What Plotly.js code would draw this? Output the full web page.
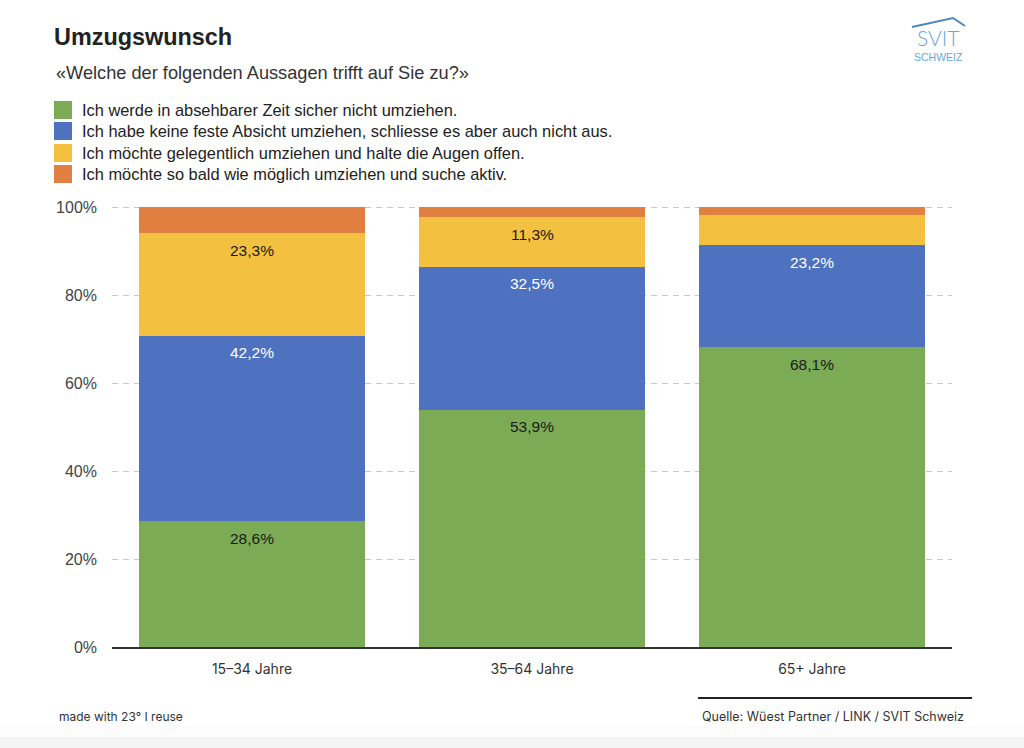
<!DOCTYPE html>
<html>
<head>
<meta charset="utf-8">
<script src="https://cdn.plot.ly/plotly-3.0.1.min.js"></script>
<style>
html,body{margin:0;padding:0;background:#fff;}
#chart{width:1024px;height:748px;}
</style>
</head>
<body>
<div id="chart"></div>
<script>
const categories = ['15–34 Jahre', '35–64 Jahre', '65+ Jahre'];
const seriesNames = [
  'Ich werde in absehbarer Zeit sicher nicht umziehen.',
  'Ich habe keine feste Absicht umziehen, schliesse es aber auch nicht aus.',
  'Ich möchte gelegentlich umziehen und halte die Augen offen.',
  'Ich möchte so bald wie möglich umziehen und suche aktiv.'
];
const greenValues  = [28.6, 53.9, 68.1];
const blueValues   = [42.2, 32.5, 23.2];
const yellowValues = [23.3, 11.3, 6.9];
const orangeValues = [5.9, 2.3, 1.8];
const greenShown  = [true, true, true];
const blueShown   = [true, true, true];
const yellowShown = [true, true, false];
const orangeShown = [false, false, false];
const yTickValues = [0, 20, 40, 60, 80, 100];
const yTickLabels = ['0%', '20%', '40%', '60%', '80%', '100%'];

const colors = ['#7bab55', '#4e71c0', '#f3c03f', '#e07f40'];
const labelColors = ['#1a1a1a', '#ffffff', '#1a1a1a', '#1a1a1a'];
const allValues = [greenValues, blueValues, yellowValues, orangeValues];
const allShown = [greenShown, blueShown, yellowShown, orangeShown];

const traces = allValues.map((vals, k) => ({
  type: 'bar',
  name: seriesNames[k],
  x: categories,
  y: vals,
  marker: {color: colors[k], line: {width: 0}},
  hoverinfo: 'skip',
  showlegend: false
}));

// plot area geometry in pixels (for converting page positions to paper units)
const L = 112, R = 952, T = 206, B = 647;
const px = v => (v - L) / (R - L);
const py = v => (B - v) / (B - T);

const annotations = [];
const shapes = [];
const cum = [0, 0, 0];
allValues.forEach((vals, k) => {
  vals.forEach((v, i) => {
    cum[i] += v;
    if (allShown[k][i]) {
      annotations.push({
        x: categories[i], y: cum[i], xref: 'x', yref: 'y',
        text: v.toFixed(1).replace('.', ',') + '%',
        showarrow: false, yshift: -17, yanchor: 'middle',
        font: {family: 'Liberation Sans, Arial, sans-serif', size: 15.5, color: labelColors[k]}
      });
    }
  });
});

// legend drawn manually (large square swatches)
const legendRows = [110, 131, 153, 174];
seriesNames.forEach((name, k) => {
  const cy = legendRows[k];
  shapes.push({type: 'rect', xref: 'paper', yref: 'paper',
    x0: px(54), x1: px(72), y0: py(cy - 9), y1: py(cy + 9),
    fillcolor: colors[k], line: {width: 0}});
  annotations.push({xref: 'paper', yref: 'paper', x: px(80), y: py(cy), xanchor: 'left', yanchor: 'middle',
    text: name, showarrow: false,
    font: {family: 'Liberation Sans, Arial, sans-serif', size: 16.4, color: '#222'}});
});

annotations.push(
  {xref: 'paper', yref: 'paper', x: px(54), y: py(73), xanchor: 'left', yanchor: 'middle',
   text: '«Welche der folgenden Aussagen trifft auf Sie zu?»', showarrow: false,
   font: {family: 'Liberation Sans, Arial, sans-serif', size: 18.2, color: '#333'}},
  {xref: 'paper', yref: 'paper', x: px(57), y: py(716), xanchor: 'left', yanchor: 'middle',
   text: 'made with 23° I reuse', showarrow: false,
   font: {family: 'Inter, Roboto, sans-serif', size: 12, color: '#333'}},
  {xref: 'paper', yref: 'paper', x: px(966), y: py(716), xanchor: 'right', yanchor: 'middle',
   text: 'Quelle: Wüest Partner / LINK / SVIT Schweiz', showarrow: false,
   font: {family: 'Inter, Roboto, sans-serif', size: 12.5, color: '#333'}},
  {xref: 'paper', yref: 'paper', x: px(938), y: py(37), xanchor: 'center', yanchor: 'middle',
   text: 'SVIT', showarrow: false,
   font: {family: 'Lato, Open Sans, sans-serif', size: 21, color: '#6aa6dc', weight: 300}},
  {xref: 'paper', yref: 'paper', x: px(938), y: py(56.5), xanchor: 'center', yanchor: 'middle',
   text: 'SCHWEIZ', showarrow: false,
   font: {family: 'Liberation Sans, Arial, sans-serif', size: 10.5, color: '#6aa6dc'}}
);

shapes.push(
  {type: 'rect', xref: 'paper', yref: 'paper', x0: px(0), x1: px(1024), y0: py(726), y1: py(737),
   fillcolor: '#fcfcfc', line: {width: 0}, layer: 'below'},
  {type: 'rect', xref: 'paper', yref: 'paper', x0: px(0), x1: px(1024), y0: py(737), y1: py(748),
   fillcolor: '#f4f4f4', line: {width: 0}, layer: 'below'},
  {type: 'line', xref: 'paper', yref: 'paper', x0: px(698), x1: px(972), y0: py(698), y1: py(698),
   line: {color: '#222', width: 2}},
  {type: 'path', xref: 'paper', yref: 'paper',
   path: 'M ' + px(912) + ' ' + py(27) + ' L ' + px(953) + ' ' + py(18) + ' L ' + px(965) + ' ' + py(26),
   line: {color: '#4f86bd', width: 2}}
);

const layout = {
  width: 1024, height: 748,
  margin: {l: L, r: 1024 - R, t: T, b: 748 - B, pad: 0},
  paper_bgcolor: '#ffffff', plot_bgcolor: '#ffffff',
  barmode: 'stack', bargap: 0.196,
  title: {text: '<b>Umzugswunsch</b>', xref: 'container', yref: 'container',
          x: 54 / 1024, xanchor: 'left', y: 1 - 37 / 748, yanchor: 'middle',
          font: {family: 'Liberation Sans, Arial, sans-serif', size: 23.4, color: '#222'}},
  showlegend: false,
  xaxis: {type: 'category', showgrid: false, zeroline: false, showline: true,
          linecolor: '#333', linewidth: 1.5, ticks: '', ticklabelstandoff: 9,
          tickfont: {family: 'Inter, Roboto, sans-serif', size: 14, color: '#333'}},
  yaxis: {range: [0, 100.25], tickmode: 'array', tickvals: yTickValues, ticktext: yTickLabels,
          showgrid: true, gridcolor: '#c8c8c8', griddash: '6px,5px', gridwidth: 1, zeroline: false,
          showline: false, ticks: '', ticklabelstandoff: 14,
          tickfont: {family: 'Liberation Sans, Arial, sans-serif', size: 16, color: '#444'}},
  annotations: annotations,
  shapes: shapes
};

Plotly.newPlot('chart', traces, layout, {displayModeBar: false, staticPlot: true});
</script>
</body>
</html>
